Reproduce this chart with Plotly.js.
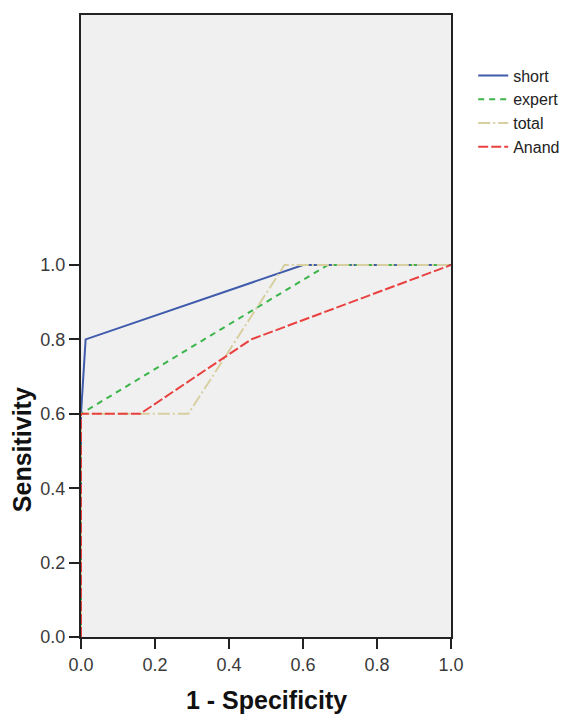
<!DOCTYPE html>
<html><head><meta charset="utf-8">
<script src="https://cdn.plot.ly/plotly-3.0.1.min.js"></script>
<style>html,body{margin:0;padding:0;background:#fff}#c{width:577px;height:715px}</style>
</head><body><div id="c"></div>
<script>
const seriesNames = ["short", "expert", "total", "Anand"];
const shortX = [0, 0, 0.0125, 0.6, 1.0];
const shortY = [0, 0.6, 0.8, 1.0, 1.0];
const expertX = [0, 0, 0.333, 0.667, 1.0];
const expertY = [0, 0.6, 0.8, 1.0, 1.0];
const totalX = [0, 0, 0.29, 0.55, 1.0];
const totalY = [0, 0.6, 0.6, 1.0, 1.0];
const anandX = [0, 0, 0.16, 0.46, 1.0];
const anandY = [0, 0.6, 0.6, 0.8, 1.0];
const tickVals = [0, 0.2, 0.4, 0.6, 0.8, 1.0];
const tickText = ["0.0", "0.2", "0.4", "0.6", "0.8", "1.0"];
const xTitle = "1 - Specificity";
const yTitle = "Sensitivity";

const colors = ["#3f5bab", "#3cb54a", "#d8cfa0", "#e8413f"];
const dashes = ["solid", "6px,5px", "12px,3px,2px,3px", "10px,3px"];
const xs = [shortX, expertX, totalX, anandX];
const ys = [shortY, expertY, totalY, anandY];

const data = seriesNames.map((n, i) => ({
  x: xs[i], y: ys[i], name: n, type: "scatter", mode: "lines",
  line: {color: colors[i], width: 2, dash: dashes[i]}
}));

const FONT = "Liberation Sans, Arial";
const axisCommon = {
  showgrid: false, zeroline: false, showline: true, linecolor: "#222", linewidth: 2,
  mirror: true, ticks: "outside", ticklen: 10, tickwidth: 2, tickcolor: "#222",
  tickvals: tickVals, ticktext: tickText,
  tickfont: {family: FONT, size: 18, color: "#3a3a3a"}
};

const layout = {
  width: 577, height: 715,
  margin: {l: 81, r: 124, t: 15, b: 78},
  paper_bgcolor: "#ffffff", plot_bgcolor: "#f0f0f0",
  showlegend: true,
  legend: {x: 1.06, xanchor: "left", y: 0.93, yanchor: "top", bgcolor: "rgba(0,0,0,0)",
    font: {family: FONT, size: 16, color: "#222"}},
  xaxis: Object.assign({}, axisCommon, {range: [0, 1.0]}),
  yaxis: Object.assign({}, axisCommon, {range: [0, 1.672]}),
  annotations: [
    {text: xTitle, xref: "paper", yref: "paper", x: 0.5, y: -0.101, xanchor: "center", yanchor: "middle",
     showarrow: false, font: {family: FONT, size: 25, color: "#111", weight: "bold"}},
    {text: yTitle, xref: "paper", yref: "y", x: -0.1586, y: 0.503, xanchor: "center", yanchor: "middle",
     textangle: -90, showarrow: false, font: {family: FONT, size: 25, color: "#111", weight: "bold"}}
  ]
};
Plotly.newPlot("c", data, layout, {displayModeBar: false, staticPlot: true});
</script></body></html>
